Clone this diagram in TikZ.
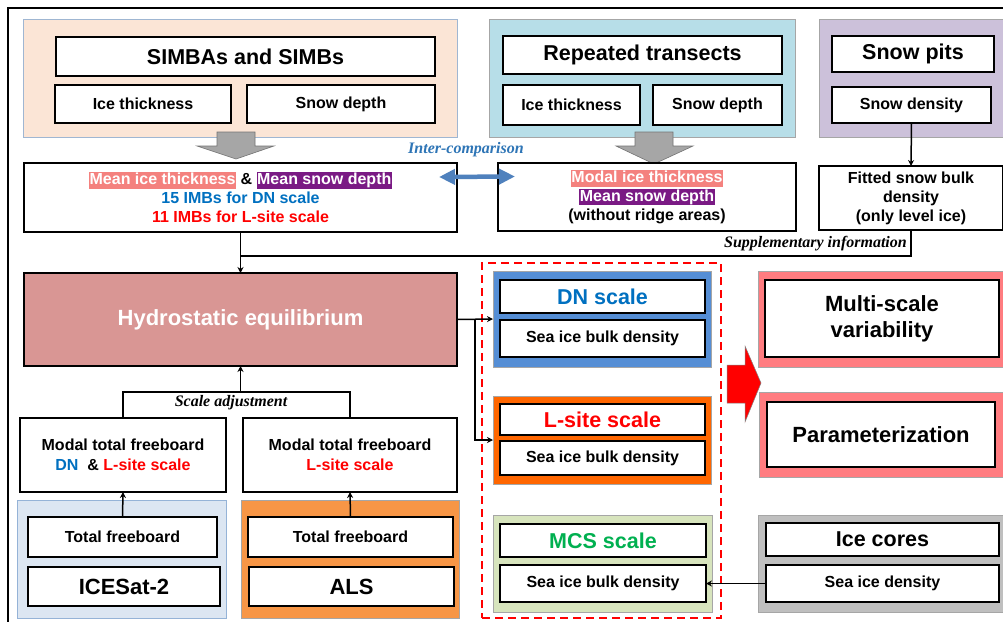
\documentclass[tikz,border=0pt]{standalone}
\usepackage{fontspec}
\setmainfont{Liberation Sans}
\newfontfamily\labfont{Liberation Serif}
\usetikzlibrary{arrows.meta}
\definecolor{peach}{HTML}{FBE5D6}
\definecolor{peachb}{HTML}{9FB6D2}
\definecolor{ltblue}{HTML}{B7DEE8}
\definecolor{lav}{HTML}{CCC1DA}
\definecolor{rosy}{HTML}{D99694}
\definecolor{icebl}{HTML}{DCE6F2}
\definecolor{icebb}{HTML}{95B3D7}
\definecolor{alsor}{HTML}{F79646}
\definecolor{dnblue}{HTML}{558ED5}
\definecolor{lorange}{HTML}{FF6600}
\definecolor{mgreen}{HTML}{D7E4BD}
\definecolor{salm}{HTML}{FF7C80}
\definecolor{gry}{HTML}{BFBFBF}
\definecolor{arrgray}{HTML}{A6A6A6}
\definecolor{tblue}{HTML}{0070C0}
\definecolor{lblue}{HTML}{2E75B6}
\definecolor{arrblue}{HTML}{4F81BD}
\definecolor{tgreen}{HTML}{00B050}
\definecolor{purp}{HTML}{7A1A84}
\definecolor{hsalm}{HTML}{F4817E}
\newcommand\fs[2]{\fontsize{#1}{#2}\selectfont}
\newcommand\mybox[7]{\pgfmathsetmacro\bw{#4-#2}\pgfmathsetmacro\bh{#5-#3}%
  \node[#6, minimum width=\bw pt, minimum height=\bh pt] (#1) at ({(#2+#4)/2},{(#3+#5)/2}) {#7};}
\newcommand\hl[2]{\colorbox{#1}{\rule[-3.5pt]{0pt}{15.5pt}\textcolor{white}{#2}}}
\setlength{\fboxsep}{0.6pt}
\begin{document}
\begin{tikzpicture}[x=1pt,y=-1pt,
  wbox/.style={draw, line width=1.8pt, fill=white, inner sep=0pt, outer sep=0pt, align=center},
  grp/.style={draw=black!35, line width=0.8pt, inner sep=0pt, outer sep=0pt},
  ln/.style={line width=1.5pt},
  arr/.style={line width=1.5pt, -{Stealth[length=6pt,width=6pt]}},
  lab/.style={font=\labfont\bfseries\itshape\fs{16}{19}, inner sep=0pt}]
\useasboundingbox (0,0) rectangle (1003,621);
\clip (0,0) rectangle (1003,621);
\fill[white] (0,0) rectangle (1003,621);
\draw[line width=1.5pt] (8,8) rectangle (1020,640);
% top left group
\mybox{simgrp}{23}{19}{457}{137}{grp, fill=peach, draw=peachb}{}
\mybox{simt}{56}{37}{435}{76}{wbox, font=\bfseries\fs{21.5}{25}}{SIMBAs and SIMBs}
\mybox{simi}{55}{85}{231}{123}{wbox, font=\bfseries\fs{16}{19}}{Ice thickness}
\mybox{sims}{247}{85}{435}{123}{wbox, font=\bfseries\fs{16}{19}}{Snow depth}
% repeated transects
\mybox{repgrp}{489}{19}{795}{137}{grp, fill=ltblue}{}
\mybox{rept}{503}{36}{782}{74}{wbox, font=\bfseries\fs{21.5}{25}}{Repeated transects}
\mybox{repi}{503}{85}{640}{125}{wbox, font=\bfseries\fs{16}{19}}{Ice thickness}
\mybox{reps}{653}{85}{782}{125}{wbox, font=\bfseries\fs{16}{19}}{Snow depth}
% snow pits
\mybox{spgrp}{819}{19}{1010}{137}{grp, fill=lav}{}
\mybox{spt}{832}{36}{994}{72}{wbox, font=\bfseries\fs{21.5}{25}}{Snow pits}
\mybox{spd}{832}{87}{991}{123}{wbox, font=\bfseries\fs{16}{19}}{Snow density}
\mybox{fitted}{819}{166}{1003}{230}{wbox, line width=1.5pt, font=\bfseries\fs{16}{19}}{Fitted snow bulk\\density\\(only level ice)}
% gray arrows
\filldraw[fill=arrgray, draw=black!55, line width=0.6pt] (217,132) -- (255,132) -- (255,146) -- (274,146) -- (236,159) -- (197,146) -- (217,146) -- cycle;
\filldraw[fill=arrgray, draw=black!55, line width=0.6pt] (635,132) -- (673,132) -- (673,146) -- (693,146) -- (654,164) -- (616,146) -- (635,146) -- cycle;
% mean and modal
\mybox{mean}{24}{163}{457}{232}{wbox, line width=1.5pt, font=\bfseries\fs{16}{19.5}}{\hl{hsalm}{Mean ice thickness} \& \hl{purp}{Mean snow depth}\\[-1pt]\textcolor{tblue}{15 IMBs for DN scale}\\\textcolor{red}{11 IMBs for L-site scale}}
\mybox{modal}{498}{163}{796}{231}{wbox, line width=1.5pt, font=\bfseries\fs{16}{19.5}}{\hl{hsalm}{Modal ice thickness}\\[-1pt]\hl{purp}{Mean snow depth}\\(without ridge areas)}
\node[lab, text=lblue] (ic) at (466,150) {Inter-comparison};
\draw[line width=4.5pt, arrblue, {Triangle[width=15pt,length=16pt]}-{Triangle[width=15pt,length=16pt]}] ([shift={(-18,-20.5)}]mean.east) -- ([shift={(17,-20.5)}]modal.west);
% hydrostatic
\mybox{hydro}{24}{273}{457}{366}{draw, line width=1.8pt, fill=rosy, inner sep=0pt, outer sep=0pt, text=white, font=\bfseries\fs{22}{26}}{Hydrostatic equilibrium}
\coordinate (j) at (240.5,256);
\draw[arr] (mean.south) -- (hydro.north);
\draw[ln] (fitted.south) |- (j);
\node[lab, anchor=east] (supp) at (907,244) {Supplementary information};
\draw[arr] (spd.south) -- (fitted.north);
% freeboard
\mybox{m1}{20}{418}{226}{492}{wbox, line width=1.5pt, font=\bfseries\fs{16}{19.5}}{Modal total freeboard\\\textcolor{tblue}{DN} \ \& \textcolor{red}{L-site scale}}
\mybox{m2}{243}{418}{457}{492}{wbox, line width=1.5pt, font=\bfseries\fs{16}{19.5}}{Modal total freeboard\\\textcolor{red}{L-site scale}}
\coordinate (sa) at (240.5,392);
\draw[ln] (m1.north) |- (sa) -| (m2.north);
\draw[arr] (sa) -- (hydro.south);
\node[lab] (scl) at (231,403) {Scale adjustment};
\mybox{icegrp}{17}{500}{226}{618}{grp, fill=icebl, draw=icebb}{}
\mybox{tf1}{28}{517}{217}{557}{wbox, font=\bfseries\fs{16}{19}}{Total freeboard}
\mybox{ices}{28}{567}{220}{606}{wbox, font=\bfseries\fs{22}{26}}{ICESat-2}
\mybox{alsgrp}{241}{500}{459}{618}{grp, fill=alsor}{}
\mybox{tf2}{248}{517}{453}{557}{wbox, font=\bfseries\fs{16}{19}}{Total freeboard}
\mybox{als}{249}{567}{454}{606}{wbox, font=\bfseries\fs{22}{26}}{ALS}
\draw[arr] (tf1.north) -- (m1.south);
\draw[arr] (tf2.north) -- (m2.south);
% scales
\mybox{dash}{482}{263}{721}{618}{draw=red, line width=2pt, dash pattern=on 8pt off 5pt}{}
\mybox{dngrp}{493}{271}{711}{367}{grp, fill=dnblue}{}
\mybox{dnt}{500}{280}{705}{313}{wbox, text=tblue, font=\bfseries\fs{21.5}{25}}{DN scale}
\mybox{dnb}{500}{320}{705}{357}{wbox, font=\bfseries\fs{16}{19}}{Sea ice bulk density}
\mybox{lgrp}{493}{396}{711}{484}{grp, fill=lorange}{}
\mybox{lt}{500}{404}{705}{435}{wbox, text=red, font=\bfseries\fs{21.5}{25}}{L-site scale}
\mybox{lb}{500}{441}{705}{475}{wbox, font=\bfseries\fs{16}{19}}{Sea ice bulk density}
\mybox{mgrp}{493}{515}{712}{612}{grp, fill=mgreen}{}
\mybox{mt}{500}{524}{706}{557}{wbox, text=tgreen, font=\bfseries\fs{21.5}{25}}{MCS scale}
\mybox{mb}{500}{565}{706}{602}{wbox, font=\bfseries\fs{16}{19}}{Sea ice bulk density}
\coordinate (br) at (475,319);
\draw[arr] (hydro.east) -- (dngrp.west);
\draw[arr] (br) |- (lgrp.west);
% red arrow
\filldraw[fill=red, draw=black!50, line width=0.5pt] (727,365) -- (745,365) -- (745,346) -- (761,383) -- (745,422) -- (745,403) -- (727,403) -- cycle;
% outcomes
\mybox{msgrp}{758}{271}{1010}{367}{grp, fill=salm}{}
\mybox{mst}{765}{280}{999}{357}{wbox, font=\bfseries\fs{22}{26}}{Multi-scale\\variability}
\mybox{pgrp}{759}{392}{1010}{477}{grp, fill=salm}{}
\mybox{ptz}{767}{402}{995}{467}{wbox, font=\bfseries\fs{22}{26}}{Parameterization}
\mybox{icgrp}{758}{515}{1010}{612}{grp, fill=gry}{}
\mybox{ict}{766}{523}{999}{556}{wbox, font=\bfseries\fs{21.5}{25}}{Ice cores}
\mybox{icd}{766}{565}{999}{602}{wbox, font=\bfseries\fs{16}{19}}{Sea ice density}
\draw[arr] (icd.west) -- (mb.east);
\end{tikzpicture}
\end{document}
